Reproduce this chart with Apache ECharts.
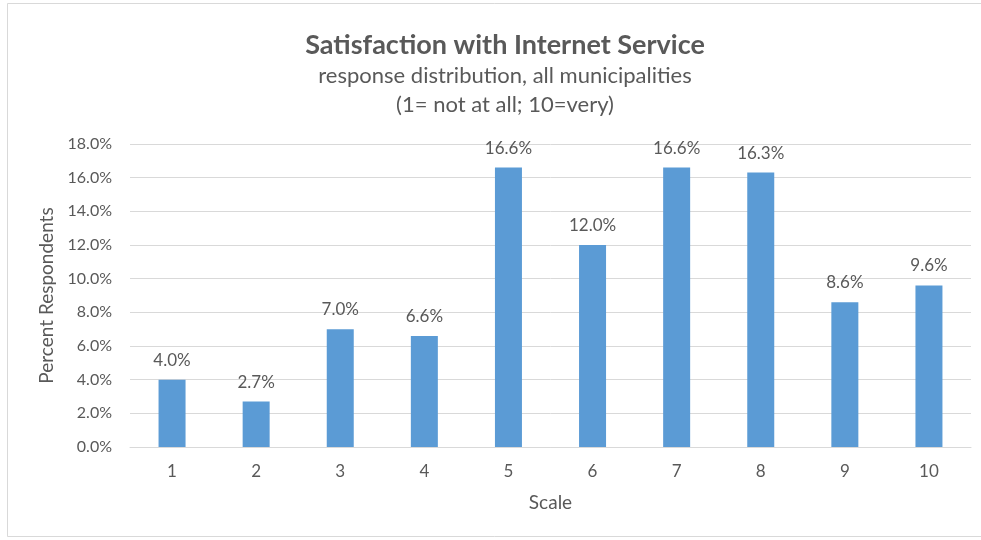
<!DOCTYPE html>
<html>
<head>
<meta charset="utf-8">
<script src="https://cdn.jsdelivr.net/npm/echarts@6/dist/echarts.min.js"></script>
<style>
  html, body { margin: 0; padding: 0; background: #fff; }
  #chart { width: 981px; height: 540px; }
</style>
</head>
<body>
<div id="chart"></div>
<script>
// Response scale (1 = not at all, 10 = very)
const scaleCategories = ['1', '2', '3', '4', '5', '6', '7', '8', '9', '10'];
// Share of respondents per scale point, in percent
const percentRespondents = [4.0, 2.7, 7.0, 6.6, 16.6, 12.0, 16.6, 16.3, 8.6, 9.6];
// Value axis range and step, in percent
const yMin = 0;
const yMax = 18;
const yStep = 2;

const FONT = 'Lato, "Open Sans", sans-serif';
const TEXT = '#595959';

const chart = echarts.init(document.getElementById('chart'), null, { renderer: 'canvas' });

chart.setOption({
  animation: false,
  backgroundColor: '#ffffff',
  graphic: [{
    type: 'rect',
    shape: { x: 7.5, y: 3.5, width: 990, height: 533 },
    style: { fill: 'none', stroke: '#d9d9d9', lineWidth: 1 },
    silent: true,
    z: -1
  }],
  title: [
    {
      text: 'Satisfaction with Internet Service',
      left: 500, top: 27, textAlign: 'center',
      textStyle: { fontFamily: FONT, fontSize: 27, fontWeight: 'bold', color: TEXT }
    },
    {
      text: 'response distribution, all municipalities',
      left: 500, top: 60, textAlign: 'center',
      textStyle: { fontFamily: FONT, fontSize: 22, fontWeight: 'normal', color: TEXT }
    },
    {
      text: '(1= not at all; 10=very)',
      left: 500, top: 89, textAlign: 'center',
      textStyle: { fontFamily: FONT, fontSize: 22, fontWeight: 'normal', color: TEXT }
    }
  ],
  grid: { left: 130, right: 10, top: 144, bottom: 93, containLabel: false },
  xAxis: {
    type: 'category',
    data: scaleCategories,
    name: 'Scale',
    nameLocation: 'middle',
    nameGap: 46,
    nameTextStyle: { fontFamily: FONT, fontSize: 19, color: TEXT },
    axisLine: { show: true, lineStyle: { color: '#d9d9d9', width: 1 } },
    axisTick: { show: false },
    axisLabel: { fontFamily: FONT, fontSize: 17, color: TEXT, margin: 16 }
  },
  yAxis: {
    type: 'value',
    min: yMin,
    max: yMax,
    interval: yStep,
    name: 'Percent Respondents',
    nameLocation: 'middle',
    nameGap: 74,
    nameRotate: 90,
    nameTextStyle: { fontFamily: FONT, fontSize: 19, color: TEXT },
    axisLine: { show: false },
    axisTick: { show: false },
    splitLine: { lineStyle: { color: '#d9d9d9', width: 1 } },
    axisLabel: {
      fontFamily: FONT, fontSize: 16, color: TEXT, margin: 18,
      formatter: v => v.toFixed(1) + '%'
    }
  },
  series: [{
    type: 'bar',
    data: percentRespondents,
    barWidth: 27,
    itemStyle: { color: '#5b9bd5' },
    label: {
      show: true,
      position: 'top',
      distance: 11,
      fontFamily: FONT, fontSize: 17, color: TEXT,
      formatter: p => p.value.toFixed(1) + '%'
    }
  }]
});
</script>
</body>
</html>
